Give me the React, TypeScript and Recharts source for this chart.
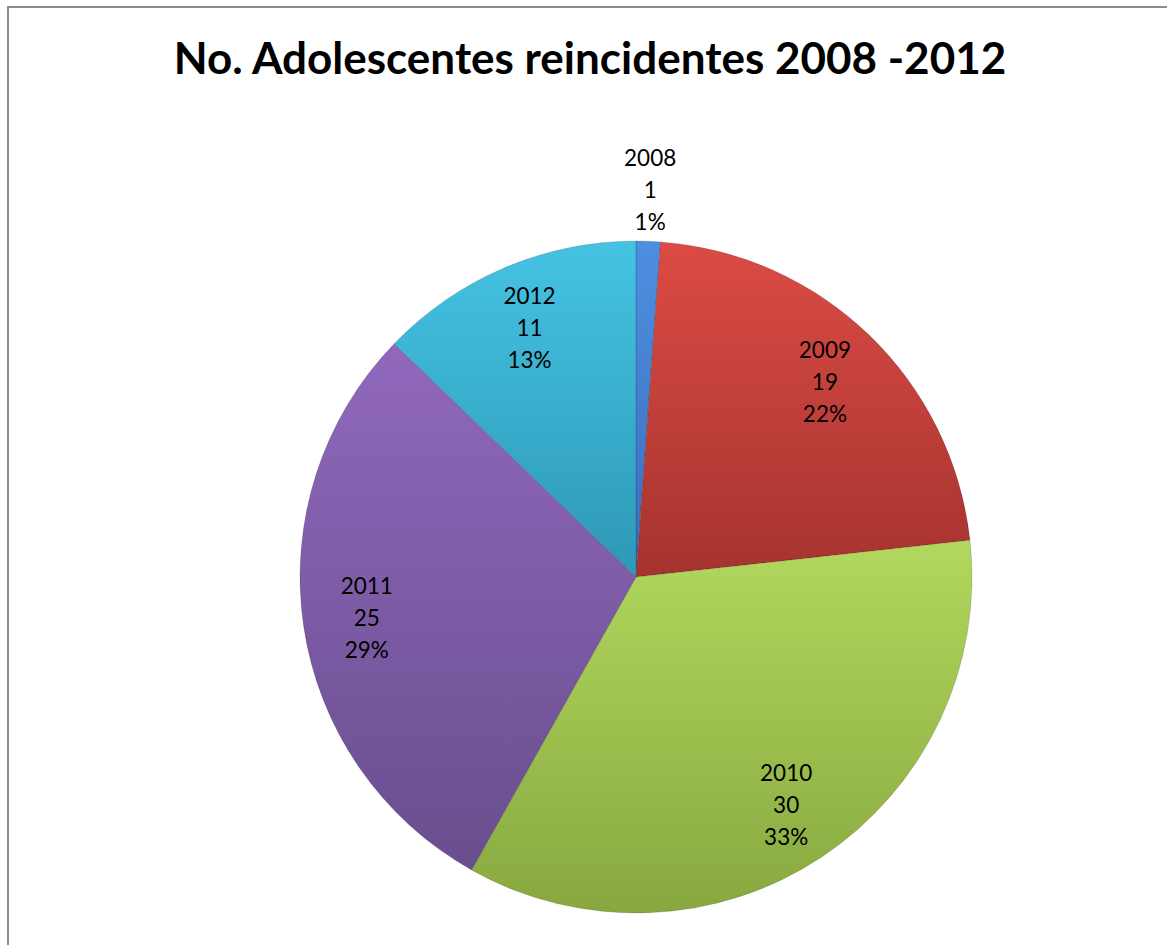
import { Cell, Pie, PieChart } from "recharts";

const years = ["2008", "2009", "2010", "2011", "2012"];
const counts = [1, 19, 30, 25, 11];
const percents = ["1%", "22%", "33%", "29%", "13%"];

const topColors = ["#4f8fe0", "#dc4b45", "#b2d85e", "#9068bc", "#45c3e3"];
const bottomColors = ["#3a6dbb", "#a5332f", "#88a83f", "#694e8e", "#2e98b6"];

const data = years.map((year, i) => ({ year, count: counts[i], pct: percents[i] }));

const RAD = Math.PI / 180;

function renderLabel(props: any) {
  const { cx, cy, midAngle, outerRadius, percent, index } = props;
  const r = percent < 0.05 ? outerRadius + 52 : outerRadius * 0.81;
  const x = cx + r * Math.cos(-midAngle * RAD);
  const y = cy + r * Math.sin(-midAngle * RAD);
  const item = data[index];
  const lines = [item.year, String(item.count), item.pct];
  return (
    <text
      x={x}
      y={y - 32}
      textAnchor="middle"
      dominantBaseline="central"
      fontFamily="Lato, 'Open Sans', sans-serif"
      fontSize={22.5}
      fill="#000"
    >
      {lines.map((line, k) => (
        <tspan key={k} x={x} dy={k === 0 ? 0 : 32}>
          {line}
        </tspan>
      ))}
    </text>
  );
}

export default function App() {
  return (
    <div style={{ position: "absolute", left: 0, top: 0, width: 1167, height: 945, overflow: "hidden", background: "#fff" }}>
      <div
        style={{
          position: "absolute",
          left: 7,
          top: 6,
          width: 1180,
          height: 960,
          borderLeft: "2px solid #8c8c8c",
          borderTop: "2px solid #8c8c8c"
        }}
      />
      <div
        style={{
          position: "absolute",
          left: 0,
          top: 31,
          width: 1180,
          textAlign: "center",
          fontFamily: "Lato, 'Open Sans', sans-serif",
          fontWeight: 700,
          fontSize: 44,
          color: "#000"
        }}
      >
        No. Adolescentes reincidentes 2008 -2012
      </div>
      <div style={{ position: "absolute", left: 0, top: 0 }}>
        <PieChart width={1167} height={945} margin={{ top: 0, right: 0, bottom: 0, left: 0 }}>
          <defs>
            {data.map((d, i) => (
              <linearGradient key={d.year} id={`slice${i}`} x1="0" y1="0" x2="0" y2="1">
                <stop offset="0%" stopColor={topColors[i]} />
                <stop offset="100%" stopColor={bottomColors[i]} />
              </linearGradient>
            ))}
          </defs>
          <Pie
            data={data}
            dataKey="count"
            nameKey="year"
            cx={636}
            cy={577}
            outerRadius={336}
            startAngle={90}
            endAngle={-270}
            stroke="rgba(0,0,0,0.15)"
            strokeWidth={1}
            label={renderLabel}
            labelLine={false}
            isAnimationActive={false}
          >
            {data.map((d, i) => (
              <Cell key={d.year} fill={`url(#slice${i})`} />
            ))}
          </Pie>
        </PieChart>
      </div>
    </div>
  );
}
